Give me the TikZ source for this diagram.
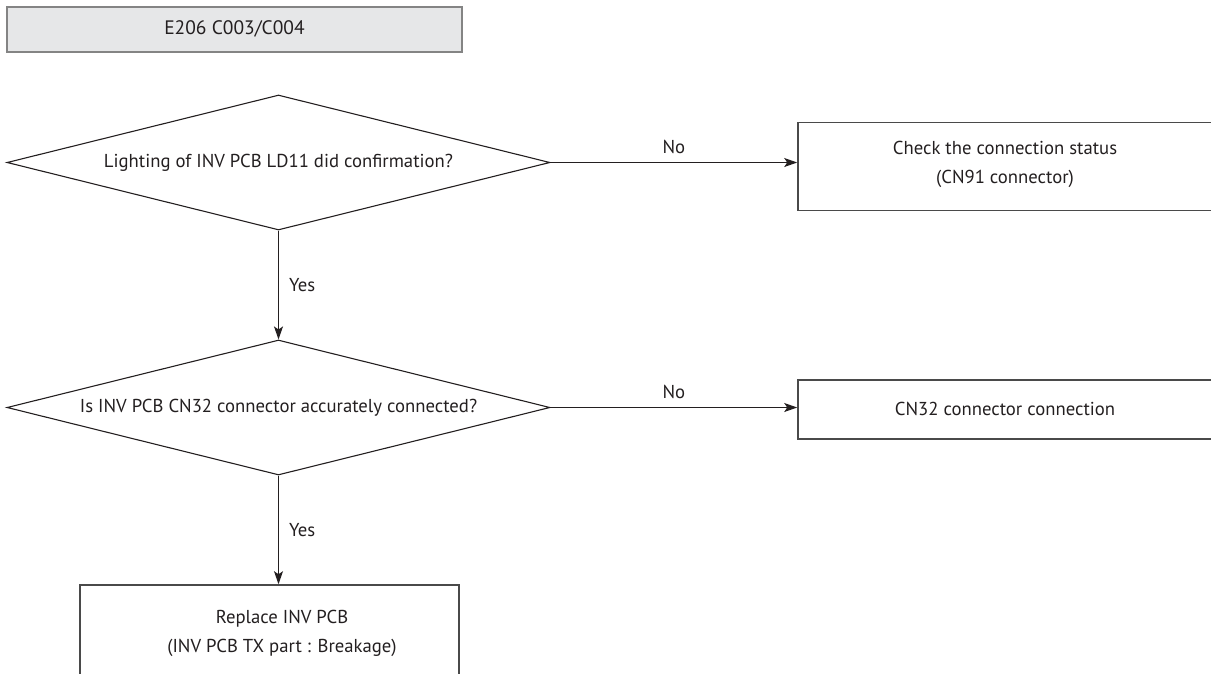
\documentclass[tikz,border=0pt]{standalone}
\usepackage{fontspec}
\setmainfont{PT Sans}
\usetikzlibrary{shapes.geometric,arrows.meta}
\definecolor{ink}{HTML}{231F20}
\definecolor{boxline}{HTML}{4A4A4A}
\definecolor{titlefill}{HTML}{E6E7E8}
\definecolor{titleline}{HTML}{848484}
\tikzset{
  txt/.style={font=\fontsize{18.7}{29}\selectfont, text=ink, align=center},
  decision/.style={draw=ink, line width=1.1pt, diamond, inner sep=0pt, shape aspect=4, minimum width=543pt, minimum height=135pt, txt},
  actbox/.style={draw=boxline, line width=1.6pt, txt},
  conn/.style={draw=ink, line width=1.1pt, -{Stealth[length=13pt,width=9pt,inset=3pt]}},
  lbl/.style={font=\fontsize{18.7}{20}\selectfont, text=ink, inner sep=0pt},
}
\begin{document}
\begin{tikzpicture}[x=1pt,y=-1pt]
\useasboundingbox (0,0) rectangle (1211,673);
\clip (0,0) rectangle (1211,673);
% title
\node[draw=titleline, fill=titlefill, line width=2pt, minimum width=455pt, minimum height=45pt, inner sep=0pt, txt, font=\fontsize{19.5}{24}\selectfont] (title) at (234.5,29) {E206 C003/C004};
% decisions
\node[decision] (d1) at (278.5,162.5) {Lighting of INV PCB LD11 did confirmation?};
\node[decision] (d2) at (278.5,407.5) {Is INV PCB CN32 connector accurately connected?};
% boxes (extend beyond right/bottom edges)
\node[actbox, minimum width=480pt, minimum height=88pt, inner sep=0pt] (b1) at (1038,166.5) {};
\node[txt] (b1t) at (1005,164) {Check the connection status\\(CN91 connector)};
\node[actbox, minimum width=480pt, minimum height=59pt, inner sep=0pt] (b2) at (1038,409.5) {};
\node[txt] (b2t) at (1005,409) {CN32 connector connection};
\node[actbox, minimum width=379pt, minimum height=120pt, inner sep=0pt] (b3) at (269.5,645) {};
\node[txt] (b3t) at (282,633) {Replace INV PCB\\(INV PCB TX part : Breakage)};
% connectors
\draw[conn] (d1.east) -- (d1.east -| b1.west) node[lbl, midway, above=8pt] {No};
\draw[conn] (d2.east) -- (d2.east -| b2.west) node[lbl, midway, above=8pt] {No};
\draw[conn] (d1.south) -- (d2.north) node[lbl, midway, right=10pt] {Yes};
\draw[conn] (d2.south) -- (d2.south |- b3.north) node[lbl, midway, right=10pt] {Yes};
\end{tikzpicture}
\end{document}
